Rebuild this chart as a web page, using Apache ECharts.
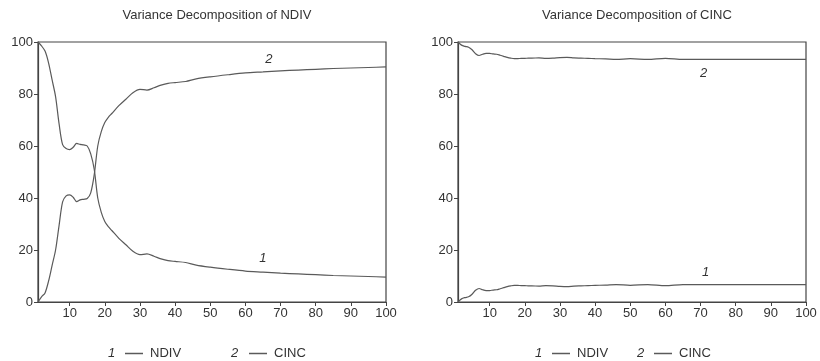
<!DOCTYPE html>
<html>
<head>
<meta charset="utf-8">
<script src="https://cdn.jsdelivr.net/npm/echarts@6/dist/echarts.min.js"></script>
<style>
  html, body { margin: 0; padding: 0; background: #fff; }
  #chart { width: 820px; height: 361px; }
</style>
</head>
<body>
<div id="chart"></div>
<script>
// Forecast horizons (periods) at which the decomposition is plotted
const periods = [1,2,3,4,5,6,7,8,9,10,11,12,13,14,15,16,17,18,19,20,21,22,24,26,28,30,32,34,36,38,40,43,46,50,55,60,65,70,75,80,85,90,95,100];

// Variance decomposition of NDIV (% explained by each shock)
const ndivByNdiv = [100,98.5,96.5,92,85.5,79,68.5,60.5,59,58.6,59.5,61,60.6,60.4,60,57,51,40,34.5,31,29,27.5,24.5,22,19.5,18.2,18.5,17.6,16.6,15.9,15.6,15.2,14.2,13.4,12.6,11.9,11.5,11.1,10.8,10.5,10.2,10,9.8,9.6];
const ndivByCinc = [0,2,3.5,8,14,20,29.5,38.5,40.8,41.2,40.3,38.6,39.3,39.5,39.8,42,49,60,65.5,69,71,72.5,75.5,78,80.5,81.8,81.5,82.4,83.4,84.1,84.4,84.8,85.8,86.6,87.4,88.1,88.5,88.9,89.2,89.5,89.8,90,90.2,90.4];

// Variance decomposition of CINC
const cincByNdiv = [0,1.2,1.7,2,3,4.5,5.2,4.7,4.4,4.4,4.6,4.7,5.1,5.5,5.9,6.2,6.4,6.4,6.3,6.3,6.2,6.2,6.1,6.3,6.2,6.0,5.9,6.1,6.2,6.3,6.4,6.5,6.7,6.4,6.7,6.3,6.7,6.7,6.7,6.7,6.7,6.7,6.7,6.7];
const cincByCinc = [100,98.8,98.3,98,97,95.5,94.8,95.3,95.6,95.6,95.4,95.3,94.9,94.5,94.1,93.8,93.6,93.6,93.7,93.7,93.8,93.8,93.9,93.7,93.8,94,94.1,93.9,93.8,93.7,93.6,93.5,93.3,93.6,93.3,93.7,93.3,93.3,93.3,93.3,93.3,93.3,93.3,93.3];

const xTicks = [10,20,30,40,50,60,70,80,90,100];
const titles = ['Variance Decomposition of NDIV', 'Variance Decomposition of CINC'];

const LINE = '#5a5a5a';
const TEXT = '#333';
const FONT = 'Liberation Sans, Arial, sans-serif';

const pairs = ys => periods.map((p, i) => [p, ys[i]]);

const grids = [
  { left: 38, top: 42, width: 348, height: 260 },
  { left: 458, top: 42, width: 348, height: 260 }
].map(g => Object.assign(g, { show: true, borderColor: '#444', borderWidth: 1.2, backgroundColor: 'transparent' }));

const xAxes = [0, 1].map(i => ({
  type: 'value', gridIndex: i, min: 1, max: 100,
  axisLine: { show: true, lineStyle: { color: '#444', width: 1.2 } },
  axisTick: { show: true, length: 4, customValues: xTicks, lineStyle: { color: '#444' } },
  axisLabel: { customValues: xTicks, color: TEXT, fontSize: 13, fontFamily: FONT, margin: 5 },
  splitLine: { show: false }
}));

const yAxes = [0, 1].map(i => ({
  type: 'value', gridIndex: i, min: 0, max: 100, interval: 20,
  axisLine: { show: true, lineStyle: { color: '#444', width: 1.2 } },
  axisTick: { show: true, length: 4, lineStyle: { color: '#444' } },
  axisLabel: { color: TEXT, fontSize: 13, fontFamily: FONT, margin: 5 },
  splitLine: { show: false }
}));

function curve(name, axis, ys, tag, tagX, dx, dy) {
  const idx = periods.indexOf(tagX);
  return {
    type: 'line', name, xAxisIndex: axis, yAxisIndex: axis,
    data: pairs(ys), symbol: 'none', smooth: 0.3,
    lineStyle: { color: LINE, width: 1.2 },
    itemStyle: { color: LINE },
    markPoint: {
      symbol: 'circle', symbolSize: 0, silent: true,
      data: [{ coord: [tagX, ys[idx]] }],
      label: {
        show: true, formatter: tag, offset: [dx, dy],
        color: TEXT, fontSize: 13, fontStyle: 'italic', fontFamily: FONT
      }
    }
  };
}

const series = [
  curve('NDIV', 0, ndivByNdiv, '1', 65, 0, -14),
  curve('CINC', 0, ndivByCinc, '2', 65, 6, -13),
  curve('NDIV', 1, cincByNdiv, '1', 70, 5, -12),
  curve('CINC', 1, cincByCinc, '2', 70, 3, 14)
];

// One legend entry per key so each can be placed beside its number
const legendSpots = [
  { name: 'NDIV', left: 120 }, { name: 'CINC', left: 244 },
  { name: 'NDIV', left: 547 }, { name: 'CINC', left: 649 }
];
const legends = legendSpots.map(s => ({
  data: [s.name], left: s.left, top: 342, icon: 'rect',
  itemWidth: 18, itemHeight: 1.5, itemGap: 0, selectedMode: false,
  textStyle: { color: TEXT, fontSize: 13, fontFamily: FONT, padding: [0, 0, 0, 2] }
}));
const legendNums = [
  { n: '1', x: 108 }, { n: '2', x: 231 },
  { n: '1', x: 535 }, { n: '2', x: 637 }
].map(t => ({
  type: 'text', left: t.x, top: 347,
  style: { text: t.n, fill: TEXT, font: 'italic 13px ' + FONT }
}));

const chart = echarts.init(document.getElementById('chart'), null, { renderer: 'canvas' });
chart.setOption({
  backgroundColor: '#fff',
  animation: false,
  title: titles.map((t, i) => ({
    text: t, left: i === 0 ? 212 : 632, top: 4, textAlign: 'center',
    textStyle: { color: TEXT, fontSize: 13, fontWeight: 'normal', fontFamily: FONT }
  })),
  grid: grids,
  xAxis: xAxes,
  yAxis: yAxes,
  legend: legends,
  graphic: legendNums,
  series
});
</script>
</body>
</html>
